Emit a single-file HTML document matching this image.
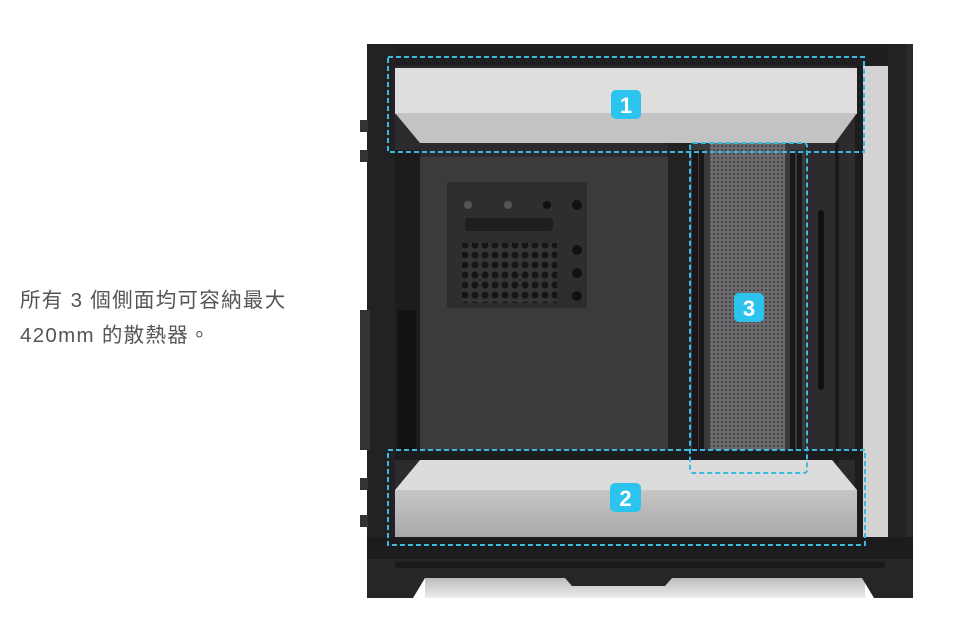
<!DOCTYPE html>
<html><head><meta charset="utf-8"><style>
html,body{margin:0;padding:0;background:#fff;width:960px;height:624px;overflow:hidden;position:relative}
.t{position:absolute;left:20px;font-family:"Liberation Sans","Noto Sans CJK TC",sans-serif;font-size:20.5px;color:#555;letter-spacing:1.3px;white-space:nowrap}
svg{position:absolute;left:0;top:0}
</style></head><body>
<div class="t" style="top:283px">所有 3 個側面均可容納最大</div>
<div class="t" style="top:318px">420mm 的散熱器。</div>
<svg width="960" height="624" viewBox="0 0 960 624">
<defs>
<pattern id="mesh" width="4" height="4" patternUnits="userSpaceOnUse"><rect width="4" height="4" fill="#6c6c6e"/><circle cx="2" cy="2" r="1" fill="#3a3a3c"/></pattern>
<pattern id="holes" width="10" height="10" patternUnits="userSpaceOnUse"><rect width="10" height="10" fill="#353537"/><circle cx="5" cy="5" r="3.5" fill="#151515"/></pattern>
<linearGradient id="front2" x1="0" y1="0" x2="0" y2="1"><stop offset="0" stop-color="#c6c6c6"/><stop offset="1" stop-color="#a9a9a9"/></linearGradient>
<linearGradient id="shadow" x1="0" y1="0" x2="0" y2="1"><stop offset="0" stop-color="#bdbdbd"/><stop offset="1" stop-color="#ececec"/></linearGradient>
</defs>
<rect x="367" y="44" width="546" height="512" fill="#2b2b2d"/>
<rect x="367" y="44" width="546" height="22" fill="#1f1f21"/>
<rect x="367" y="44" width="28" height="512" fill="#222224"/>
<rect x="360" y="120" width="8" height="12" fill="#333"/>
<rect x="360" y="150" width="8" height="12" fill="#333"/>
<rect x="360" y="310" width="10" height="140" fill="#333"/>
<rect x="360" y="478" width="8" height="12" fill="#333"/>
<rect x="360" y="515" width="8" height="12" fill="#333"/>
<rect x="395" y="150" width="25" height="310" fill="#1c1c1e"/>
<rect x="398" y="310" width="18" height="140" fill="#111"/>
<rect x="420" y="157" width="248" height="295" fill="#3b3b3d"/>
<rect x="447" y="182" width="140" height="126" fill="#2e2e30"/>
<rect x="465" y="218" width="88" height="13" rx="3" fill="#1e1e20"/>
<rect x="462" y="243" width="95" height="60" fill="url(#holes)"/>
<circle cx="577" cy="205" r="5" fill="#111"/><circle cx="577" cy="250" r="5" fill="#111"/><circle cx="577" cy="273" r="5" fill="#111"/><circle cx="577" cy="296" r="5" fill="#111"/>
<circle cx="468" cy="205" r="4" fill="#555"/><circle cx="508" cy="205" r="4" fill="#555"/><circle cx="547" cy="205" r="4" fill="#111"/>
<rect x="668" y="143" width="22" height="310" fill="#222"/>
<rect x="690" y="143" width="115" height="320" fill="#3a3a3c"/>
<rect x="710" y="143" width="75" height="320" fill="url(#mesh)"/>
<rect x="692" y="150" width="6" height="300" fill="#181818"/>
<rect x="699" y="150" width="5" height="300" fill="#181818"/>
<rect x="790" y="150" width="5" height="300" fill="#181818"/>
<rect x="797" y="150" width="5" height="300" fill="#181818"/>
<rect x="805" y="143" width="50" height="320" fill="#2c2c2e"/>
<rect x="818" y="210" width="6" height="180" rx="3" fill="#111"/>
<rect x="835" y="143" width="4" height="320" fill="#1a1a1a"/>
<rect x="855" y="66" width="8" height="480" fill="#1c1c1e"/>
<rect x="863" y="66" width="26" height="480" fill="#d3d3d3"/>
<rect x="888" y="44" width="18" height="512" fill="#222224"/>
<rect x="906" y="44" width="7" height="512" fill="#2a2a2c"/>
<rect x="395" y="68" width="462" height="46" fill="#dedede"/>
<polygon points="395,113 857,113 835,143 420,143" fill="#c3c3c3"/>
<rect x="395" y="450" width="462" height="10" fill="#1c1c1e"/>
<polygon points="420,460 832,460 857,490 395,490" fill="#dcdcdc"/>
<rect x="395" y="490" width="462" height="47" fill="url(#front2)"/>
<rect x="425" y="578" width="440" height="20" fill="url(#shadow)"/>
<rect x="367" y="537" width="546" height="22" fill="#1c1c1e"/>
<polygon points="367,559 913,559 913,598 874,598 862,578 672,578 665,586 572,586 565,578 425,578 413,598 367,598" fill="#262628"/>
<rect x="395" y="562" width="490" height="6" fill="#1a1a1a"/>
<g fill="none" stroke="#3bb9e0" stroke-width="2" stroke-dasharray="5,3">
<rect x="388" y="57" width="476" height="95"/>
<rect x="388" y="450" width="477" height="95"/>
<rect x="690" y="143" width="117" height="330" rx="3"/>
</g>
<g font-family="Liberation Sans,sans-serif" font-weight="bold" font-size="22" fill="#fff" text-anchor="middle">
<rect x="611" y="90" width="30" height="29" rx="5" fill="#2cc4ee"/><text x="626" y="113">1</text>
<rect x="734" y="293" width="30" height="29" rx="5" fill="#2cc4ee"/><text x="749" y="316">3</text>
<rect x="610" y="483" width="31" height="29" rx="5" fill="#2cc4ee"/><text x="625.5" y="506">2</text>
</g>
</svg>
</body></html>
